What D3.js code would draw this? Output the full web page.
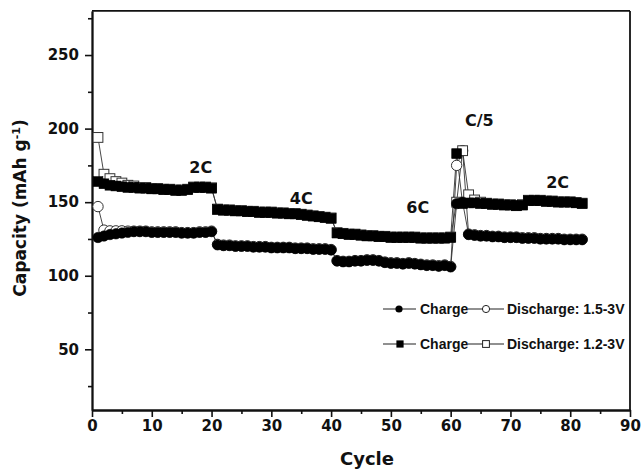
<!DOCTYPE html>
<html><head><meta charset="utf-8">
<script src="https://cdn.jsdelivr.net/npm/d3@7"></script>
<style>body{margin:0;background:#fff;} svg{display:block;}</style>
</head><body><svg id="c" width="643" height="469"></svg>
<script>
// ---------------- data ----------------
const cycles = d3.range(1, 83);
// 1.5-3V, charge (filled circles)
const charge15 = [126,127,128,128.5,129,129.5,130,130,130,129.5,129.5,129.5,129.5,129.5,129,129,129,129.5,129.5,130,
  121,120.5,120.5,120,120,120,119.5,119.5,119.5,119,119,119,119,118.5,118.5,118.5,118,118,118,117.5,
  110,109.5,109.5,110,110,110.5,110.5,110,109,108.5,108.5,108,108.5,108,107.5,107,107,106.5,107,106,
  149,150,
  128,127.5,127,127,126.5,126.5,126,126,126,125.5,125.5,125.5,125,125,125,125,124.5,124.5,124.5,124.5];
// 1.5-3V, discharge (open circles)
const discharge15 = [147,131,130.5,130.5,130.5,130.3,130.3,130.3,130.3,129.8,129.8,129.8,129.8,129.8,129.3,129.3,129.3,129.8,129.8,130.3,
  121.3,120.8,120.8,120.3,120.3,120.3,119.8,119.8,119.8,119.3,119.3,119.3,119.3,118.8,118.8,118.8,118.3,118.3,118.3,117.8,
  110.3,109.8,109.8,110.3,110.3,110.8,110.8,110.3,109.3,108.8,108.8,108.3,108.8,108.3,107.8,107.3,107.3,106.8,107.3,106.3,
  175,185,
  128.3,127.8,127.3,127.3,126.8,126.8,126.3,126.3,126.3,125.8,125.8,125.8,125.3,125.3,125.3,125.3,124.8,124.8,124.8,124.8];
// 1.2-3V, charge (filled squares)
const charge12 = [164,162.5,161.5,161,160.5,160,160,159.5,159.5,159,159,158.5,158.5,158,158,158.5,160,160,160,159.5,
  145,144.5,144.5,144,144,143.5,143.5,143,143,143,142.5,142.5,142,142,141.5,141,140.5,140,139.5,139,
  129,128.5,128,128,127.5,127,127,126.5,126.5,126,126,126,126,126,125.5,125.5,125.5,125.5,125.5,126,
  183,149,
  149.5,149.5,149,149,148.5,148.5,148,148,147.5,148,151,151,151,150.5,150.5,150,150,150,149.5,149];
// 1.2-3V, discharge (open squares)
const discharge12 = [194,169,166,164,163,161.5,161,160,160,159.3,159.3,158.8,158.8,158.3,158.3,158.8,160.3,160.3,160.3,159.8,
  145.3,144.8,144.8,144.3,144.3,143.8,143.8,143.3,143.3,143.3,142.8,142.8,142.3,142.3,141.8,141.3,140.8,140.3,139.8,139.3,
  129.3,128.8,128.3,128.3,127.8,127.3,127.3,126.8,126.8,126.3,126.3,126.3,126.3,126.3,125.8,125.8,125.8,125.8,125.8,126.3,
  150,185,
  155,151.5,150,149.3,148.8,148.8,148.3,148.3,147.8,148.3,151.3,151.3,151.3,150.8,150.8,150.3,150.3,150.3,149.8,149.3];

const xTicks = [0,10,20,30,40,50,60,70,80,90];
const xMinor = [5,15,25,35,45,55,65,75,85];
const yTicks = [50,100,150,200,250];
const yMinor = [25,75,125,175,225,275];
const rateLabels = ['2C','4C','6C','C/5','2C'];
const rateLabelCycle = [18.2,35,54.5,64.8,77.9];
const rateLabelCap = [170,148.6,142.9,201.8,159.4];
const legendCharge = ['Charge','Charge'];
const legendDischarge = ['Discharge: 1.5-3V','Discharge: 1.2-3V'];

// ---------------- chart ----------------
const svg = d3.select('#c');
const x = d3.scaleLinear().domain([0, 90]).range([92, 630]);
const y = d3.scaleLinear().domain([8.75, 280]).range([410, 10.9]);
const AX = 'DejaVu Sans, sans-serif';
const LG = 'Liberation Sans, Arial, sans-serif';

// frame top/right
svg.append('line').attr('x1', x(0)).attr('x2', x(90)).attr('y1', y(280)).attr('y2', y(280))
  .attr('stroke', '#111').attr('stroke-width', 1.8);
svg.append('line').attr('x1', x(90)).attr('x2', x(90)).attr('y1', y(280)).attr('y2', y(8.75))
  .attr('stroke', '#111').attr('stroke-width', 1.8);

function styleAxis(g){
  g.select('.domain').attr('stroke', '#111').attr('stroke-width', 1.8);
  g.selectAll('.tick line').attr('stroke', '#111').attr('stroke-width', 1.6);
  g.selectAll('.tick text').attr('font-family', AX).attr('font-weight', 'bold')
    .attr('font-size', 15).attr('fill', '#111');
}
const gxMinor = svg.append('g').attr('transform', `translate(0,${y(8.75)})`)
  .call(d3.axisBottom(x).tickValues(xMinor).tickSize(4).tickSizeOuter(0).tickFormat(''));
styleAxis(gxMinor);
const gx = svg.append('g').attr('transform', `translate(0,${y(8.75)})`)
  .call(d3.axisBottom(x).tickValues(xTicks).tickSize(7).tickSizeOuter(0).tickPadding(3));
styleAxis(gx);
const gyMinor = svg.append('g').attr('transform', `translate(${x(0)},0)`)
  .call(d3.axisLeft(y).tickValues(yMinor).tickSize(4).tickSizeOuter(0).tickFormat(''));
styleAxis(gyMinor);
const gy = svg.append('g').attr('transform', `translate(${x(0)},0)`)
  .call(d3.axisLeft(y).tickValues(yTicks).tickSize(7).tickSizeOuter(0).tickPadding(6));
styleAxis(gy);

// axis titles
svg.append('text').attr('x', (x(0)+x(90))/2 + 6).attr('y', 465)
  .attr('text-anchor', 'middle').attr('font-family', AX).attr('font-weight', 'bold')
  .attr('font-size', 18).attr('fill', '#111').text('Cycle');
const yt = svg.append('text').attr('transform', 'translate(26,208) rotate(-90)')
  .attr('text-anchor', 'middle').attr('font-family', AX).attr('font-weight', 'bold')
  .attr('font-size', 17).attr('fill', '#111');
yt.append('tspan').text('Capacity (mAh g');
yt.append('tspan').attr('dy', -6).attr('font-size', 11).text('-1');
yt.append('tspan').attr('dy', 6).text(')');

// series lines
const line = (arr) => d3.line().x((d, i) => x(cycles[i])).y(d => y(d))(arr);
[discharge15, discharge12, charge15, charge12].forEach(arr => {
  svg.append('path').attr('d', line(arr)).attr('fill', 'none')
    .attr('stroke', '#333').attr('stroke-width', 0.9);
});

const R = 5.2, S = 9.8;
function circles(arr, filled){
  svg.append('g').selectAll('circle').data(arr).join('circle')
    .attr('cx', (d, i) => x(cycles[i])).attr('cy', d => y(d)).attr('r', R)
    .attr('fill', filled ? '#000' : '#fff').attr('stroke', filled ? '#000' : '#333')
    .attr('stroke-width', filled ? 0.6 : 1);
}
function squares(arr, filled){
  svg.append('g').selectAll('rect').data(arr).join('rect')
    .attr('x', (d, i) => x(cycles[i]) - S/2).attr('y', d => y(d) - S/2)
    .attr('width', S).attr('height', S)
    .attr('fill', filled ? '#000' : '#fff').attr('stroke', filled ? '#000' : '#333')
    .attr('stroke-width', filled ? 0.6 : 1);
}
circles(discharge15, false);
squares(discharge12, false);
circles(charge15, true);
squares(charge12, true);

// rate labels
svg.append('g').selectAll('text').data(rateLabels).join('text')
  .attr('x', (d, i) => x(rateLabelCycle[i])).attr('y', (d, i) => y(rateLabelCap[i]))
  .attr('text-anchor', 'middle').attr('font-family', AX).attr('font-weight', 'bold')
  .attr('font-size', 16).attr('fill', '#111').text(d => d);

// legend
const lgRows = [309, 344];
lgRows.forEach((cy, r) => {
  const g = svg.append('g');
  const seg = (x1, x2) => g.append('line').attr('x1', x1).attr('x2', x2).attr('y1', cy).attr('y2', cy)
    .attr('stroke', '#222').attr('stroke-width', 1.2);
  seg(383, 416); seg(468, 504);
  if (r === 0) {
    g.append('circle').attr('cx', 399).attr('cy', cy).attr('r', 3.6).attr('fill', '#000');
    g.append('circle').attr('cx', 486).attr('cy', cy).attr('r', 3.6).attr('fill', '#fff')
      .attr('stroke', '#222').attr('stroke-width', 1);
  } else {
    g.append('rect').attr('x', 400 - 3.6).attr('y', cy - 3.6).attr('width', 7.2).attr('height', 7.2).attr('fill', '#000');
    g.append('rect').attr('x', 486 - 3.4).attr('y', cy - 3.4).attr('width', 6.8).attr('height', 6.8).attr('fill', '#fff')
      .attr('stroke', '#222').attr('stroke-width', 1);
  }
  g.append('text').attr('x', 420).attr('y', cy + 5).attr('font-family', LG).attr('font-weight', 'bold')
    .attr('font-size', 14).attr('fill', '#111').text(legendCharge[r]);
  g.append('text').attr('x', 507).attr('y', cy + 5).attr('font-family', LG).attr('font-weight', 'bold')
    .attr('font-size', 14).attr('fill', '#111').text(legendDischarge[r]);
});
</script></body></html>
